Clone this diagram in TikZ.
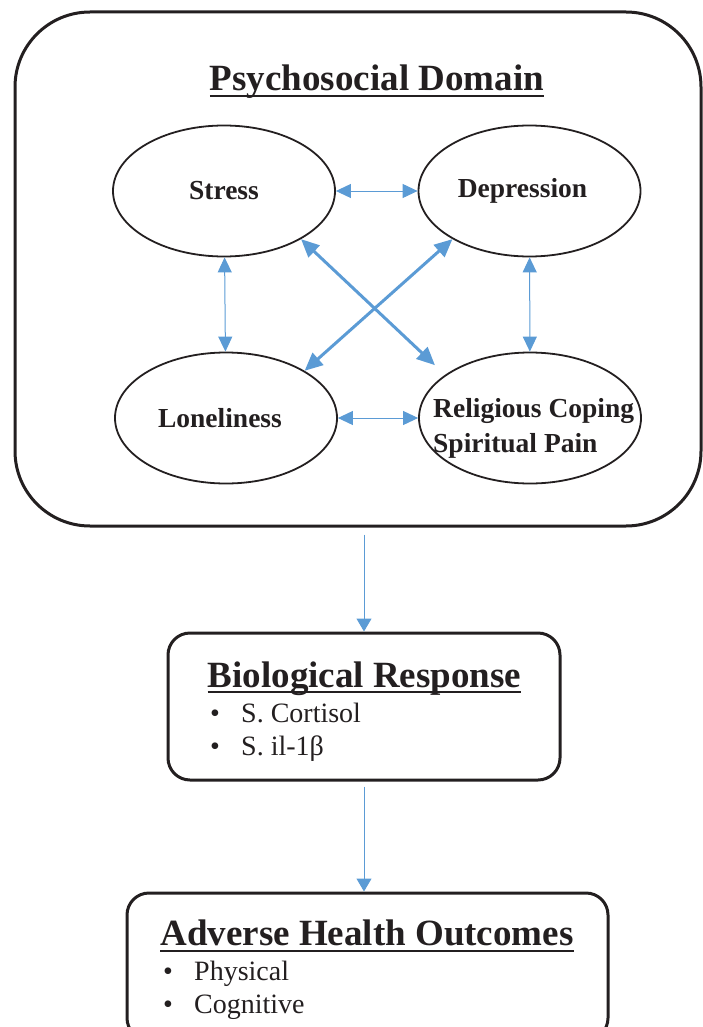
\documentclass[tikz,border=0pt]{standalone}
\usepackage{fontspec}
\setmainfont{Liberation Serif}
\usetikzlibrary{shapes.geometric,arrows.meta}

\definecolor{inkblack}{RGB}{35,31,32}
\definecolor{arrowblue}{RGB}{91,155,213}

\newcommand{\boxheadfont}{\fontsize{37}{40}\selectfont\bfseries}
\newcommand{\ovalfont}{\fontsize{27.5}{35}\selectfont\bfseries}
\newcommand{\itemfont}{\fontsize{28}{33}\selectfont}
\newcommand{\bul}{\makebox[31pt][l]{•}}

\begin{document}
\begin{tikzpicture}[x=1pt,y=-1pt]
        \useasboundingbox (0,0) rectangle (703,1027);

        % frames
        \begin{scope}[every node/.style={draw=inkblack, line width=3pt, inner sep=0pt}]
          \node[rounded corners=75pt, minimum width=686pt, minimum height=514pt] (psy) at (358,269) {};
          \node[rounded corners=22pt, minimum width=392pt, minimum height=147pt] (bio) at (364,706.5) {};
          \node[rounded corners=22pt, minimum width=481pt, minimum height=147pt] (adv) at (367.5,966.5) {};
        \end{scope}

        % ovals
        \begin{scope}[every node/.style={ellipse, draw=inkblack, line width=1.8pt,
            minimum width=222pt, minimum height=131pt, inner sep=0pt}]
          \node (stress) at (224,191) {};
          \node (dep)    at (529.5,191) {};
          \node (lone)   at (226,418) {};
          \node (rel)    at (530,418) {};
        \end{scope}
        \begin{scope}[every node/.style={inner sep=0pt, text=inkblack, font=\ovalfont}]
          \node (stresst) at (stress) {Stress};
          \node[xshift=-7pt] (dept) at (dep) {Depression};
          \node[xshift=-6pt] (lonet) at (lone) {Loneliness};
          \node[anchor=west, align=left] (relt) at (433,428) {Religious Coping\\Spiritual Pain};
        \end{scope}

        % headings and lists
        \begin{scope}[every node/.style={inner sep=0pt, text=inkblack}]
          \node[anchor=base, font=\boxheadfont] (psyt) at (377,91) {Psychosocial Domain};
          \node[anchor=base, font=\boxheadfont] (biot) at (364.5,687) {Biological Response};
          \node[anchor=base, font=\boxheadfont] (advt) at (367,945) {Adverse Health Outcomes};
          \node[anchor=base west, font=\itemfont] (cort) at (210,722) {\bul S. Cortisol};
          \node[anchor=base west, font=\itemfont] (il)   at (210,755) {\bul S. il-1β};
          \node[anchor=base west, font=\itemfont] (phys) at (163,980) {\bul Physical};
          \node[anchor=base west, font=\itemfont] (cogn) at (163,1013) {\bul Cognitive};
        \end{scope}
        \begin{scope}[line width=2.8pt, draw=inkblack]
          \draw ([yshift=-5pt]psyt.base west) -- ([yshift=-5pt]psyt.base east);
          \draw ([yshift=-5pt]biot.base west) -- ([yshift=-5pt]biot.base east);
          \draw ([yshift=-6pt]advt.base west) -- ([yshift=-6pt]advt.base east);
        \end{scope}

        % links
        \begin{scope}[every edge/.style={draw=arrowblue, line width=1pt,
            {Triangle[length=15pt,width=14pt]}-{Triangle[length=15pt,width=14pt]}}]
          \path (stress) edge (dep);
          \path (stress) edge (lone);
          \path (dep)    edge (rel);
          \path (lone)   edge (rel);
        \end{scope}
        \begin{scope}[every edge/.style={draw=arrowblue, line width=3pt,
            {Triangle[length=18pt,width=16pt]}-{Triangle[length=18pt,width=16pt]}}]
          \path (stress.-32) edge[shorten >=14pt] (rel.153);
          \path (dep.-148)   edge (lone.31);
        \end{scope}
        \begin{scope}[every edge/.style={draw=arrowblue, line width=1pt, -{Triangle[length=13pt,width=15pt]}}]
          \path (psy.south -| bio.north) edge[shorten <=7pt] (bio.north);
          \path (bio.south) edge[shorten <=5pt] (bio.south |- adv.north);
        \end{scope}

      \end{tikzpicture}
\end{document}
